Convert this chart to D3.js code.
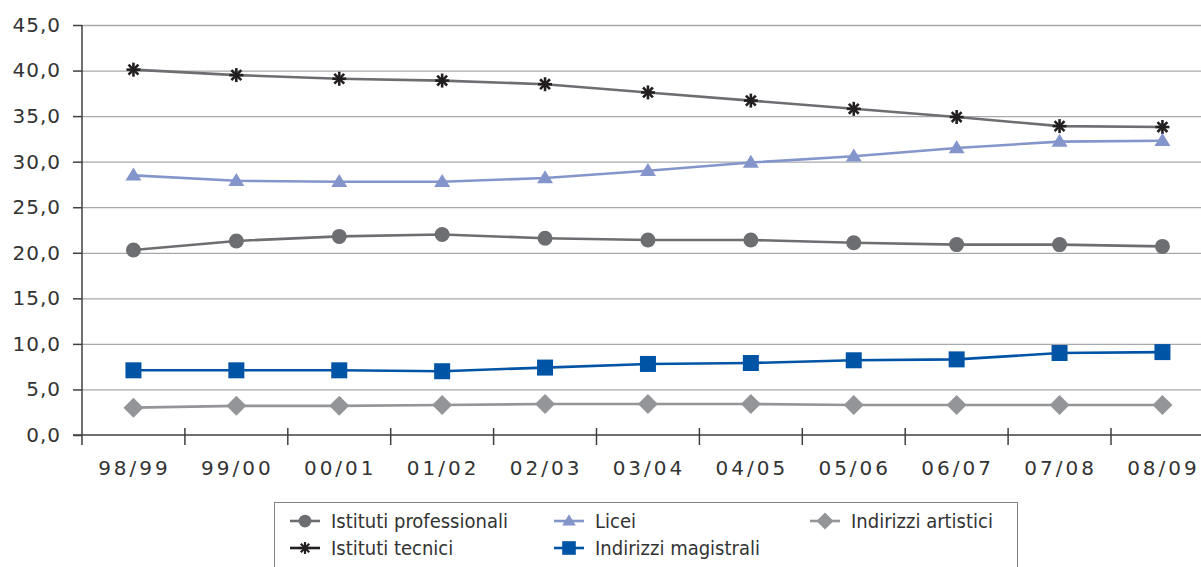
<!DOCTYPE html>
<html><head><meta charset="utf-8">
<script src="https://cdn.jsdelivr.net/npm/d3@7"></script>
<style>
body{margin:0;background:#fff;}
svg{display:block;}
text{font-family:"DejaVu Sans",sans-serif;fill:#231f20;}
</style></head><body>
<svg id="c" width="1201" height="567"></svg>
<script>
const categories = ["98/99","99/00","00/01","01/02","02/03","03/04","04/05","05/06","06/07","07/08","08/09"];
const yTicks = [0,5,10,15,20,25,30,35,40,45];
const professionali = [20.3,21.3,21.8,22.0,21.6,21.4,21.4,21.1,20.9,20.9,20.7];
const tecnici = [40.1,39.5,39.1,38.9,38.5,37.6,36.7,35.8,34.9,33.9,33.8];
const licei = [28.5,27.9,27.8,27.8,28.2,29.0,29.9,30.6,31.5,32.2,32.3];
const magistrali = [7.1,7.1,7.1,7.0,7.4,7.8,7.9,8.2,8.3,9.0,9.1];
const artistici = [3.0,3.2,3.2,3.3,3.4,3.4,3.4,3.3,3.3,3.3,3.3];

const series = [
  {name:"Istituti professionali", values:professionali, line:"#6d6e71", fill:"#6d6e71", sym:"circle"},
  {name:"Istituti tecnici", values:tecnici, line:"#6d6e71", fill:"#231f20", sym:"aster"},
  {name:"Licei", values:licei, line:"#8495cc", fill:"#8495cc", sym:"triangle"},
  {name:"Indirizzi magistrali", values:magistrali, line:"#0054a6", fill:"#0054a6", sym:"square"},
  {name:"Indirizzi artistici", values:artistici, line:"#939598", fill:"#939598", sym:"diamond"}
];

const svg = d3.select("#c");
const x0 = 82, yTop = 25, yBot = 435;
const x = d3.scaleBand().domain(categories).range([x0, x0 + 11*102.9]);
const y = d3.scaleLinear().domain([0,45]).range([yBot, yTop]);

// gridlines
svg.append("g").selectAll("line").data(yTicks.filter(d=>d>0)).join("line")
  .attr("x1", x0).attr("x2", 1201)
  .attr("y1", d=>y(d)+0.5).attr("y2", d=>y(d)+0.5)
  .attr("stroke", "#a7a9ac").attr("stroke-width", 1.3);

// y axis
const ya = svg.append("g").attr("transform", `translate(${x0},0)`)
  .call(d3.axisLeft(y).tickValues(yTicks).tickSize(9).tickPadding(12)
    .tickFormat(d=>d3.format(".1f")(d).replace(".",",")));
ya.select(".domain").remove();
ya.selectAll(".tick line").attr("stroke","#404041").attr("stroke-width",1.5);
ya.selectAll("text").style("font-size","20px").style("fill","#333")
  .style("letter-spacing","1px");
svg.append("line").attr("x1",x0).attr("x2",x0).attr("y1",yTop).attr("y2",445)
  .attr("stroke","#404041").attr("stroke-width",1.5);

// x axis
svg.append("line").attr("x1",x0-9).attr("x2",1201).attr("y1",yBot).attr("y2",yBot)
  .attr("stroke","#404041").attr("stroke-width",1.5);
const bounds = categories.slice(1).map(c=>x(c));
svg.append("g").selectAll("line").data(bounds).join("line")
  .attr("x1",d=>d).attr("x2",d=>d).attr("y1",yBot-7).attr("y2",yBot+10)
  .attr("stroke","#404041").attr("stroke-width",1.5);
svg.append("g").selectAll("text").data(categories).join("text")
  .attr("x", d=>x(d)+x.bandwidth()/2+1).attr("y", 475)
  .attr("text-anchor","middle").style("font-size","20px")
  .style("letter-spacing","3px").style("fill","#333").text(d=>d);

const cx = c => x(c) + x.bandwidth()/2;

function drawSym(g, s, px, py, scale){
  scale = scale || 1;
  if(s.sym==="circle"){
    g.append("circle").attr("cx",px).attr("cy",py).attr("r",7.5*scale).attr("fill",s.fill);
  } else if(s.sym==="square"){
    const h=8*scale;
    g.append("rect").attr("x",px-h).attr("y",py-h).attr("width",2*h).attr("height",2*h).attr("fill",s.fill);
  } else if(s.sym==="diamond"){
    const h=10*scale;
    g.append("path").attr("d",`M${px},${py-h}L${px+h},${py}L${px},${py+h}L${px-h},${py}Z`).attr("fill",s.fill);
  } else if(s.sym==="triangle"){
    const w=8*scale, hh=13*scale;
    g.append("path").attr("d",`M${px},${py-hh*0.6}L${px+w},${py+hh*0.4}L${px-w},${py+hh*0.4}Z`).attr("fill",s.fill);
  } else if(s.sym==="aster"){
    const r=7*scale;
    for(let k=0;k<4;k++){
      const a=k*Math.PI/4;
      g.append("line").attr("x1",px-r*Math.cos(a)).attr("y1",py-r*Math.sin(a))
        .attr("x2",px+r*Math.cos(a)).attr("y2",py+r*Math.sin(a))
        .attr("stroke",s.fill).attr("stroke-width",2.6*scale);
    }
  }
}

const line = d3.line().x((d,i)=>cx(categories[i])).y(d=>y(d));
series.forEach(s=>{
  const g = svg.append("g");
  g.append("path").datum(s.values).attr("d",line).attr("fill","none")
    .attr("stroke",s.line).attr("stroke-width",2.6);
  s.values.forEach((v,i)=>drawSym(g,s,cx(categories[i]),y(v)));
});

// legend
const lg = svg.append("g");
lg.append("rect").attr("x",274.5).attr("y",502.5).attr("width",743).attr("height",80)
  .attr("fill","#fff").attr("stroke","#808285").attr("stroke-width",1);
const pos = [[290,521],[290,548],[554,521],[554,548],[810,521]];
series.forEach((s,i)=>{
  const [lx,ly]=pos[i];
  lg.append("line").attr("x1",lx).attr("x2",lx+30).attr("y1",ly).attr("y2",ly)
    .attr("stroke",s.sym==="aster"?"#231f20":s.line).attr("stroke-width",2.6);
  drawSym(lg,s,lx+15,ly,0.85);
  lg.append("text").attr("x",lx+41).attr("y",ly+7).style("font-size","20px")
    .style("font-stretch","condensed").style("fill","#333").text(s.name);
});
</script>
</body></html>
